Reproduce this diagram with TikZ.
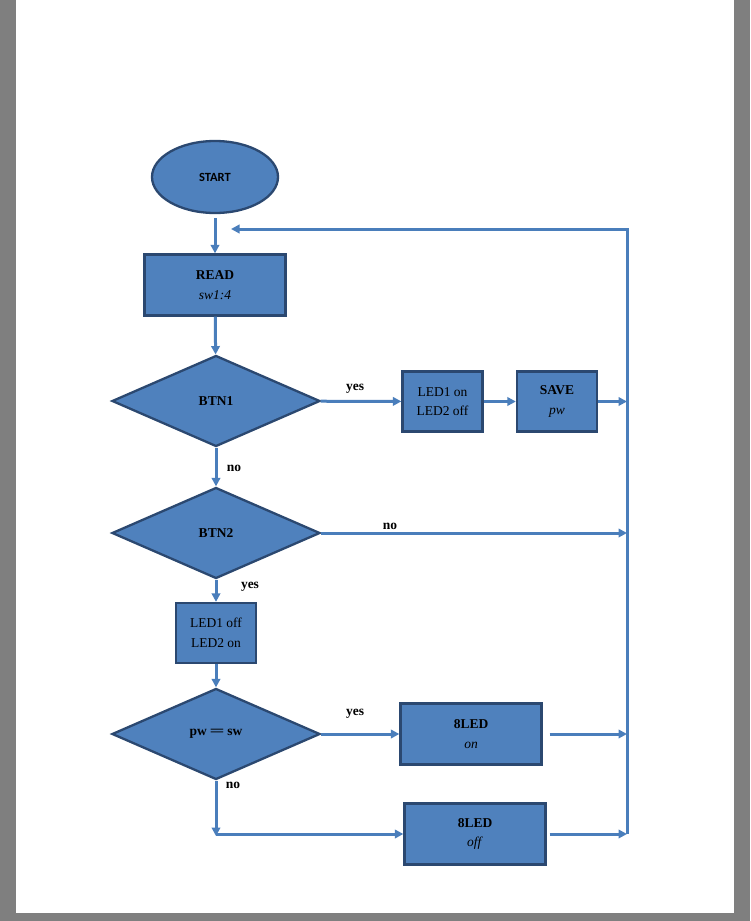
\documentclass[tikz,border=0pt]{standalone}
\usepackage{fontspec}
\setmainfont{Liberation Serif}
\newfontfamily\startfont{Carlito}
\usetikzlibrary{shapes.geometric,arrows.meta}
\definecolor{boxblue}{HTML}{4F81BD}
\definecolor{boxedge}{HTML}{2B4870}
\definecolor{wire}{HTML}{4A7EBB}
\definecolor{frame}{HTML}{7F7F7F}
\tikzset{
  box/.style={draw=boxedge, fill=boxblue, rectangle, line width=2.3pt, inner sep=0pt, align=center, font=\fontsize{13.5}{19.5}\selectfont},
  test/.style={draw=boxedge, fill=boxblue, diamond, line width=2.3pt, inner sep=0pt, minimum width=208pt, minimum height=91pt, font=\fontsize{13.5}{16}\selectfont\bfseries},
  flow/.style={->, >={Triangle[length=8.5pt,width=8.5pt]}, line width=3pt, wire},
  lbl/.style={inner sep=0pt, font=\fontsize{13.5}{16}\selectfont\bfseries}
}

\begin{document}
\begin{tikzpicture}[x=1pt,y=-1pt]
\fill[frame] (0,0) rectangle (750,921);
\fill[white] (16,0) rectangle (734,913);
\useasboundingbox (0,0) rectangle (750,921);

\node[draw=boxedge, fill=boxblue, ellipse, line width=2.3pt, minimum width=126pt, minimum height=72pt, font=\startfont\fontsize{12.5}{14}\selectfont\bfseries] (start) at (215,177) {START};
\node[box, minimum width=141pt, minimum height=61pt] (read) at (215,285) {\textbf{READ}\\\textit{sw1:4}};
\node[test] (btn1) at (216,401) {BTN1};
\node[box, minimum width=80pt, minimum height=60pt] (led12) at (442.5,401.5) {LED1 on\\LED2 off};
\node[box, minimum width=80pt, minimum height=60pt] (save) at (557,401.5) {\textbf{SAVE}\\\textit{pw}};
\node[test] (btn2) at (216,533) {BTN2};
\node[box, minimum width=80pt, minimum height=60pt] (led21) at (216,633) {LED1 off\\LED2 on};
\node[test] (cmp) at (216,734) {pw =\kern-1.5pt= sw};
\node[box, minimum width=141pt, minimum height=61pt] (ledon) at (471,734) {\textbf{8LED}\\\textit{on}};
\node[box, minimum width=141pt, minimum height=61pt] (ledoff) at (475,834) {\textbf{8LED}\\\textit{off}};

\coordinate (busTop) at (627,229);
\coordinate (busBot) at (627,834);
\coordinate (loopEnd) at (231,229);
\coordinate (corner) at (216,834);

\node[lbl] (yes1) at (355,389) {yes};
\node[lbl] (no1) at (234,468) {no};
\node[lbl] (no2) at (390,526) {no};
\node[lbl] (yes2) at (250,587) {yes};
\node[lbl] (yes3) at (355,714) {yes};
\node[lbl] (no3) at (233,785) {no};

\draw[flow, shorten <=4pt] (start) -- (read);
\draw[flow] (read) -- (btn1);
\draw[flow] (btn1) -- (led12);
\draw[flow] (led12) -- (save);
\draw[flow] (save) -- (save -| busTop);
\draw[flow] (btn1) -- (btn2);
\draw[flow] (btn2) -- (btn2 -| busTop);
\draw[flow] (btn2) -- (led21);
\draw[flow] (led21) -- (cmp);
\draw[flow] (cmp) -- (ledon);
\draw[flow] ([xshift=7pt] ledon.east) -- (ledon -| busTop);
\draw[flow] (cmp) -- ([yshift=-2pt] corner);
\draw[flow] (corner) -- (ledoff);
\draw[flow] ([xshift=3pt] ledoff.east) -- (busBot);
\draw[flow] (busBot) -- (busTop) -- (loopEnd);
\end{tikzpicture}
\end{document}
